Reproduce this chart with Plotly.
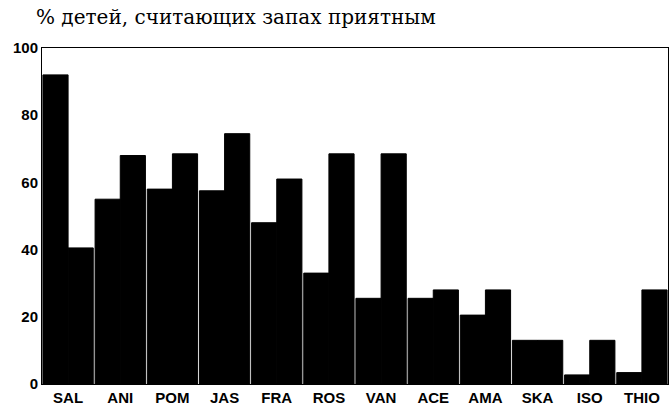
import plotly.graph_objects as go

categories = ["SAL", "ANI", "POM", "JAS", "FRA", "ROS", "VAN", "ACE", "AMA", "SKA", "ISO", "THIO"]
series_a = [92, 55, 58, 57.5, 48, 33, 25.5, 25.5, 20.5, 13, 2.7, 3.4]
series_b = [40.5, 68, 68.5, 74.5, 61, 68.5, 68.5, 28, 28, 13, 13, 28]
y_ticks = [0, 20, 40, 60, 80, 100]
title_text = "% детей, считающих запах приятным"

fig = go.Figure()
fig.add_trace(go.Bar(x=categories, y=series_a, marker=dict(color="black", line=dict(width=1, color="black")), showlegend=False))
fig.add_trace(go.Bar(x=categories, y=series_b, marker=dict(color="black", line=dict(width=1, color="black")), showlegend=False))

fig.update_layout(
    width=669, height=406,
    margin=dict(l=42, r=1, t=48, b=22, autoexpand=False),
    paper_bgcolor="white", plot_bgcolor="white",
    barmode="group", bargap=0.035, bargroupgap=0,
    font=dict(family="Liberation Sans, Arial, sans-serif", color="black"),
    annotations=[dict(
        text=title_text, xref="paper", yref="paper", x=-0.012, y=1.052,
        xanchor="left", yanchor="bottom", showarrow=False,
        font=dict(family="DejaVu Serif", size=20, color="black"),
    )],
)
fig.update_xaxes(
    showline=True, linecolor="black", linewidth=1, mirror=True, automargin=False,
    showgrid=False, ticks="", ticklen=0, tickfont=dict(size=15, weight="bold"),
)
fig.update_yaxes(
    range=[0, 100], tickvals=y_ticks, showline=True, linecolor="black", linewidth=1, mirror=True,
    automargin=False, showgrid=False, zeroline=False, ticks="", tickfont=dict(size=15, weight="bold"),
)

fig.write_html(
    "out.html",
    config={"displayModeBar": False},
    post_script="document.body.style.margin='0px';document.body.style.overflow='hidden';",
)
